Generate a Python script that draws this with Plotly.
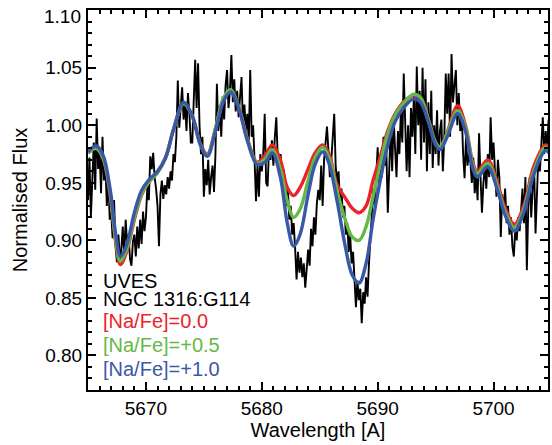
import numpy as np
import plotly.graph_objects as go

# ---------------- data ----------------
# observed UVES spectrum, sampled every 0.125 A from 5665 to 5705 A
obs_start = 5665.0
obs_step = 0.125
obs_flux = [
    0.935, 0.972, 0.921, 0.958, 0.985, 0.944, 1.006, 0.962,  # 5665
    0.978, 0.941, 0.990, 0.952, 0.968, 0.930, 0.955, 0.918,  # 5666
    0.925, 0.902, 0.935, 0.895, 0.881, 0.905, 0.884, 0.892,  # 5667
    0.912, 0.887, 0.918, 0.897, 0.905, 0.884, 0.878, 0.899,  # 5668
    0.905, 0.886, 0.912, 0.893, 0.918, 0.897, 0.925, 0.908,  # 5669
    0.920, 0.947, 0.935, 0.973, 0.962, 0.976, 0.955, 0.945,  # 5670
    0.930, 0.895, 0.940, 0.952, 0.936, 0.948, 0.940, 0.955,  # 5671
    0.945, 0.960, 0.952, 0.975, 0.968, 0.990, 1.039, 0.998,  # 5672
    1.012, 1.033, 1.005, 1.020, 0.995, 1.028, 1.010, 0.985,  # 5673
    0.985, 1.020, 1.057, 1.015, 1.054, 1.000, 0.975, 0.990,  # 5674
    0.938, 0.962, 0.948, 0.970, 0.940, 0.955, 0.965, 0.942,  # 5675
    0.975, 1.036, 0.995, 1.017, 0.990, 1.025, 1.005, 1.035,  # 5676
    1.048, 1.015, 1.030, 1.061, 1.020, 1.040, 1.012, 1.030,  # 5677
    1.007, 1.025, 1.042, 1.000, 1.018, 0.994, 1.010, 0.985,  # 5678
    1.048, 0.990, 1.000, 0.970, 0.934, 0.965, 0.938, 0.975,  # 5679
    0.960, 0.975, 1.010, 0.950, 0.947, 0.980, 0.970, 0.987,  # 5680
    0.965, 0.990, 1.007, 0.972, 0.960, 0.975, 0.950, 0.962,  # 5681
    0.952, 0.930, 0.945, 0.918, 0.930, 0.905, 0.915, 0.893,  # 5682
    0.866, 0.890, 0.872, 0.885, 0.868, 0.880, 0.859, 0.875,  # 5683
    0.892, 0.878, 0.910, 0.895, 0.920, 0.905, 0.932, 0.944,  # 5684
    0.935, 0.965, 0.930, 0.970, 0.985, 0.999, 0.978, 0.955,  # 5685
    0.970, 0.990, 1.010, 0.965, 0.950, 0.960, 0.930, 0.945,  # 5686
    0.920, 0.930, 0.905, 0.915, 0.890, 0.905, 0.880, 0.890,  # 5687
    0.870, 0.842, 0.865, 0.848, 0.858, 0.828, 0.855, 0.845,  # 5688
    0.868, 0.851, 0.880, 0.906, 0.920, 0.945, 0.930, 0.960,  # 5689
    0.981, 0.950, 0.970, 0.955, 0.990, 0.965, 0.978, 0.924,  # 5690
    0.975, 1.000, 0.960, 1.007, 0.980, 0.955, 0.995, 0.975,  # 5691
    1.012, 0.985, 1.045, 0.990, 0.960, 1.000, 0.955, 1.015,  # 5692
    0.990, 1.025, 0.975, 1.051, 1.000, 1.030, 0.970, 1.050,  # 5693
    0.985, 1.040, 0.960, 1.020, 0.975, 1.030, 0.963, 1.000,  # 5694
    0.975, 1.013, 0.965, 0.995, 1.005, 0.960, 0.990, 1.045,  # 5695
    1.010, 1.045, 0.990, 1.062, 1.020, 1.035, 1.048, 1.000,  # 5696
    1.028, 0.995, 1.012, 0.975, 0.954, 0.990, 0.965, 0.975,  # 5697
    0.968, 0.950, 0.972, 0.941, 0.958, 0.935, 0.993, 0.955,  # 5698
    0.924, 0.950, 0.965, 0.945, 0.975, 0.955, 1.007, 0.970,  # 5699
    0.985, 0.960, 0.938, 0.970, 0.955, 0.903, 0.940, 0.925,  # 5700
    0.945, 0.915, 0.930, 0.905, 0.920, 0.895, 0.886, 0.910,  # 5701
    0.900, 0.920, 0.908, 0.926, 0.945, 0.915, 0.955, 0.874,  # 5702
    0.930, 0.955, 0.920, 0.945, 0.965, 0.906, 0.950, 0.975,  # 5703
    0.960, 0.985, 1.007, 0.975, 0.995, 0.980, 1.005, 0.985,  # 5704
    0.975,
]
obs_wl = obs_start + obs_step * np.arange(len(obs_flux))

# synthetic spectra (smooth models), read at these wavelengths
model_wl = [
    5665.0, 5665.7, 5666.3, 5666.9, 5667.4, 5667.8, 5668.3, 5669.0, 5669.6,
    5670.2, 5671.0, 5671.7, 5672.4, 5673.25, 5674.0, 5674.7, 5675.3, 5676.0,
    5676.7, 5677.3, 5678.0, 5678.8, 5679.6, 5680.3, 5680.9, 5681.6, 5682.2,
    5682.75, 5683.3, 5684.0, 5684.6, 5685.25, 5685.8, 5686.5, 5687.2, 5687.8,
    5688.4, 5689.0, 5689.6, 5690.2, 5690.8, 5691.5, 5692.3, 5693.1, 5693.7,
    5694.4, 5695.0, 5695.4, 5696.0, 5696.9, 5697.6, 5698.2, 5698.6, 5699.5,
    5700.3, 5701.0, 5701.8, 5702.6, 5703.5, 5704.5, 5705.0,
]
model_na00 = [
    0.976, 0.980, 0.971, 0.940, 0.898, 0.879, 0.889, 0.918, 0.939,
    0.950, 0.959, 0.972, 0.997, 1.019, 1.008, 0.984, 0.975, 0.997,
    1.023, 1.030, 1.016, 0.987, 0.968, 0.974, 0.983, 0.970, 0.946,
    0.939, 0.946, 0.962, 0.976, 0.983, 0.975, 0.948, 0.937, 0.928,
    0.924, 0.930, 0.952, 0.972, 0.993, 1.010, 1.021, 1.026, 1.024,
    1.004, 0.985, 0.981, 0.994, 1.017, 0.999, 0.968, 0.960, 0.970,
    0.951, 0.928, 0.914, 0.930, 0.965, 0.983, 0.977,
]
model_na05 = [
    0.976, 0.980, 0.972, 0.942, 0.900, 0.882, 0.891, 0.920, 0.940,
    0.950, 0.959, 0.972, 0.997, 1.019, 1.008, 0.983, 0.974, 0.997,
    1.024, 1.031, 1.016, 0.986, 0.967, 0.971, 0.979, 0.962, 0.934,
    0.920, 0.927, 0.952, 0.972, 0.981, 0.972, 0.943, 0.918, 0.903,
    0.900, 0.912, 0.938, 0.965, 0.990, 1.009, 1.020, 1.027, 1.024,
    1.004, 0.985, 0.981, 0.993, 1.013, 0.997, 0.966, 0.958, 0.967,
    0.948, 0.925, 0.911, 0.927, 0.961, 0.981, 0.975,
]
model_na10 = [
    0.977, 0.982, 0.974, 0.945, 0.905, 0.886, 0.895, 0.924, 0.943,
    0.952, 0.960, 0.972, 0.997, 1.020, 1.008, 0.983, 0.973, 0.995,
    1.021, 1.029, 1.015, 0.985, 0.966, 0.968, 0.976, 0.955, 0.915,
    0.895, 0.905, 0.940, 0.966, 0.977, 0.967, 0.934, 0.895, 0.870,
    0.863, 0.880, 0.918, 0.951, 0.980, 1.003, 1.016, 1.023, 1.020,
    1.002, 0.983, 0.979, 0.990, 1.010, 0.994, 0.963, 0.955, 0.964,
    0.945, 0.922, 0.908, 0.924, 0.958, 0.978, 0.972,
]

label_lines = ["UVES", "NGC 1316:G114"]
model_labels = ["[Na/Fe]=0.0", "[Na/Fe]=+0.5", "[Na/Fe]=+1.0"]
model_colors = ["#ec2227", "#63b946", "#3a58a8"]

x_range = [5665.0, 5704.7]
y_range = [0.77, 1.1002]
y_ticks = [0.80, 0.85, 0.90, 0.95, 1.00, 1.05, 1.10]

# ---------------- figure ----------------
FONT = "Liberation Sans, Arial, Helvetica, sans-serif"
fig = go.Figure()

fig.add_trace(go.Scatter(
    x=obs_wl, y=obs_flux, mode="lines",
    line=dict(color="black", width=1.9), showlegend=False, hoverinfo="skip"))

for vals, col in zip([model_na00, model_na05, model_na10], model_colors):
    fig.add_trace(go.Scatter(
        x=model_wl, y=vals, mode="lines",
        line=dict(color=col, width=3.4, shape="spline", smoothing=1.0),
        showlegend=False, hoverinfo="skip"))

axis_common = dict(
    showline=True, linecolor="black", linewidth=2, mirror="ticks",
    ticks="inside", ticklen=8, tickwidth=1.5, tickcolor="black",
    showgrid=False, zeroline=False,
    tickfont=dict(family=FONT, size=19, color="black"),
)

fig.update_xaxes(
    range=x_range, tick0=5670, dtick=10,
    minor=dict(dtick=1, tick0=5665, ticks="inside", ticklen=4,
               tickwidth=1.5, tickcolor="black", showgrid=False),
    title=dict(text="Wavelength [A]", font=dict(family=FONT, size=20, color="black"),
               standoff=4),
    **axis_common)

# the top label (1.10) is drawn separately, nudged down as in the reference
y_text = ["%.2f" % v for v in y_ticks[:-1]] + [""]
fig.update_yaxes(
    range=y_range, tickmode="array", tickvals=y_ticks, ticktext=y_text,
    minor=dict(dtick=0.01, tick0=0.80, ticks="inside", ticklen=4,
               tickwidth=1.5, tickcolor="black", showgrid=False),
    title=dict(text="Normalised Flux", font=dict(family=FONT, size=20, color="black"),
               standoff=12),
    **axis_common)

plot_top, plot_bottom, plot_left, plot_w = 10, 390, 88, 462
def py(pix):
    return (plot_bottom - pix) / (plot_bottom - plot_top)

fig.add_annotation(
    x=(83 - plot_left) / plot_w, y=py(16), xref="paper", yref="paper",
    xanchor="right", yanchor="middle", showarrow=False, text="%.2f" % y_ticks[-1],
    font=dict(family=FONT, size=19, color="black"))

# in-plot labels
text_rows = [(label_lines[0], "black", 280.5), (label_lines[1], "black", 299)]
text_rows += [(model_labels[i], model_colors[i], y) for i, y in enumerate([321, 345, 368.5])]
for txt, col, ypix in text_rows:
    fig.add_annotation(
        x=(101 - plot_left) / plot_w, y=py(ypix), xref="paper", yref="paper",
        xanchor="left", yanchor="middle", showarrow=False, text=txt,
        font=dict(family=FONT, size=20, color=col))

fig.update_layout(
    width=552, height=445,
    margin=dict(l=88, r=2, t=10, b=55),
    paper_bgcolor="white", plot_bgcolor="white",
    showlegend=False,
)

fig.write_html("out.html")
